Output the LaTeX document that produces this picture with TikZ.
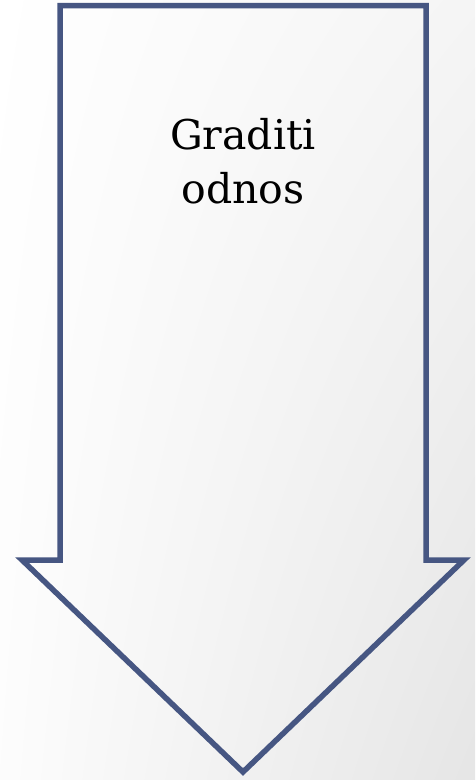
\documentclass[tikz,border=0pt]{standalone}
\usepackage{fontspec}
\setmainfont{DejaVu Serif}
\usetikzlibrary{positioning, shadings}

\definecolor{arrowblue}{RGB}{70,86,130}

\begin{document}
\begin{tikzpicture}[
    x=1pt, y=-1pt,
    bigarrow/.style={
        draw=arrowblue,
        line width=5.5pt,
        line join=miter
    },
    arrowtext/.style={
        align=center,
        inner sep=0pt,
        font={\fontsize{41}{54}\selectfont}
    }
]

    % Background with soft diagonal gradient
    \shade[upper left=white, lower right=black!10, upper right=black!4, lower left=black!1]
        (0,0) rectangle (475,780);
    \useasboundingbox (0,0) rectangle (475,780);

    % Arrow outline
    \draw[bigarrow] (60,5.5) -- (426,5.5) -- (426,560) -- (464,560)
        -- (243,772) -- (22,560) -- (60,560) -- cycle;

    % Label
    \node[arrowtext] (label) at (243,161) {Graditi\\odnos};

\end{tikzpicture}
\end{document}
